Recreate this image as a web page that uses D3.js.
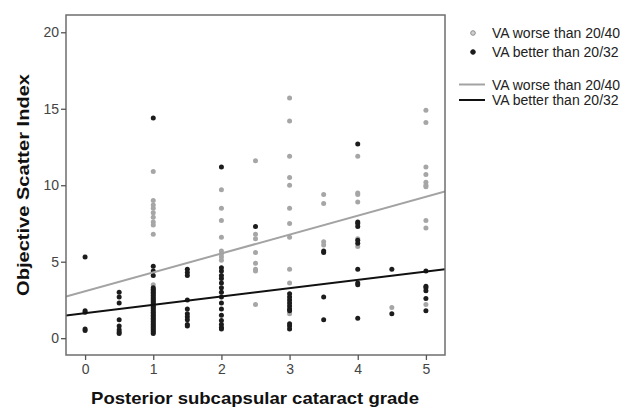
<!DOCTYPE html>
<html lang="en">
<head>
    <meta charset="UTF-8">
    <title>Objective Scatter Index vs PSC grade</title>
    <script src="https://d3js.org/d3.v7.min.js"></script>
    <style>
        body {
            margin: 0;
            background-color: white;
            font-family: "Liberation Sans", Arial, sans-serif;
        }
        .tick-label {
            font-size: 14px;
            fill: #444;
        }
        .axis-title {
            font-size: 17px;
            font-weight: bold;
            fill: #111;
        }
        .legend-text {
            font-size: 14px;
            fill: #222;
        }
    </style>
</head>
<body>
    <svg id="chart" width="635" height="411"></svg>

    <script>
        // Series values: [grade, list of OSI values at that grade]
        const worsePoints = [
            [1, [10.9, 9.0, 8.7, 8.5, 8.2, 7.9, 7.6, 7.4, 6.8, 3.5]],
            [2, [9.7, 8.5, 7.7, 6.6, 5.7, 5.5, 5.3, 5.1]],
            [2.5, [11.6, 6.8, 6.5, 5.6, 4.9, 4.5, 4.4, 2.2]],
            [3, [15.7, 14.2, 11.9, 10.5, 10.0, 8.5, 7.5, 6.6, 4.5, 3.6, 1.6]],
            [3.5, [9.4, 8.8, 6.3, 6.1]],
            [4, [11.9, 9.5, 9.4, 8.9, 6.5, 6.0]],
            [4.5, [2.0]],
            [5, [14.9, 14.1, 11.2, 10.7, 10.2, 10.0, 9.9, 7.7, 7.2, 2.2]]
        ];
        const betterPoints = [
            [0, [5.3, 1.8, 1.7, 0.6, 0.5]],
            [0.5, [3.0, 2.7, 2.3, 1.2, 0.8, 0.55, 0.4, 0.3]],
            [1, [14.4, 4.7, 4.4, 4.1, 3.3, 3.2, 3.1, 3.0, 2.9, 2.8, 2.7, 2.6, 2.5,
                 2.4, 2.3, 2.2, 2.1, 2.0, 1.9, 1.8, 1.7, 1.6, 1.5, 1.4, 1.3, 1.2,
                 1.1, 1.0, 0.9, 0.8, 0.7, 0.6, 0.5, 0.4, 0.3]],
            [1.5, [4.5, 4.3, 4.1, 2.5, 1.9, 1.6, 1.4, 1.2, 0.9, 0.8]],
            [2, [11.2, 4.6, 4.4, 4.1, 3.9, 3.6, 3.3, 3.0, 2.7, 2.3, 1.9, 1.5, 1.15, 0.9, 0.7, 0.6]],
            [2.5, [7.3]],
            [3, [2.9, 2.7, 2.5, 2.3, 2.1, 1.9, 1.8, 0.95, 0.8, 0.6]],
            [3.5, [5.7, 5.6, 2.7, 1.2]],
            [4, [12.7, 7.6, 7.5, 7.3, 6.4, 6.2, 4.5, 3.6, 3.5, 1.3]],
            [4.5, [4.5, 1.6]],
            [5, [4.4, 3.4, 3.3, 3.1, 2.6, 1.8]]
        ];

        // Linear fit lines (intercept, slope)
        const fitNames = ["VA worse than 20/40", "VA better than 20/32"];
        const fitIntercept = [3.07, 1.63];
        const fitSlope = [1.234, 0.545];

        // Axis ticks
        const xTicks = [0, 1, 2, 3, 4, 5];
        const yTicks = [0, 5, 10, 15, 20];

        const colors = ["#a6a6a6", "#1c1c1c"];
        const lineColors = ["#a3a3a3", "#111111"];

        const svg = d3.select("#chart");
        const frame = { left: 66, top: 15, right: 445, bottom: 355 };

        const x = d3.scaleLinear()
            .domain([-0.28, 5.28])
            .range([frame.left, frame.right]);
        const y = d3.scaleLinear()
            .domain([-1.1, 21.13])
            .range([frame.bottom, frame.top]);

        // Flatten the grouped points
        function flatten(groups) {
            const out = [];
            groups.forEach(g => g[1].forEach(v => out.push({ grade: g[0], osi: v })));
            return out;
        }

        svg.append("clipPath").attr("id", "plot-clip")
            .append("rect")
            .attr("x", frame.left)
            .attr("y", frame.top)
            .attr("width", frame.right - frame.left)
            .attr("height", frame.bottom - frame.top);

        // Points: gray first, black on top
        [worsePoints, betterPoints].forEach((groups, i) => {
            svg.append("g")
                .selectAll("circle")
                .data(flatten(groups))
                .enter()
                .append("circle")
                .attr("cx", d => x(d.grade))
                .attr("cy", d => y(d.osi))
                .attr("r", 2.5)
                .attr("fill", colors[i]);
        });

        // Fit lines across the whole x range
        const lineGroup = svg.append("g").attr("clip-path", "url(#plot-clip)");
        fitIntercept.forEach((b, i) => {
            const xs = x.domain();
            lineGroup.append("line")
                .attr("x1", x(xs[0]))
                .attr("y1", y(b + fitSlope[i] * xs[0]))
                .attr("x2", x(xs[1]))
                .attr("y2", y(b + fitSlope[i] * xs[1]))
                .attr("stroke", lineColors[i])
                .attr("stroke-width", 2);
        });

        // Frame
        svg.append("rect")
            .attr("x", frame.left)
            .attr("y", frame.top)
            .attr("width", frame.right - frame.left)
            .attr("height", frame.bottom - frame.top)
            .attr("fill", "none")
            .attr("stroke", "#6e6e6e")
            .attr("stroke-width", 1.5);

        // Y axis
        const yAxis = d3.axisLeft(y).tickValues(yTicks).tickSize(5).tickPadding(2)
            .tickFormat(d3.format("d"));
        const gy = svg.append("g")
            .attr("transform", `translate(${frame.left},0)`)
            .call(yAxis);
        gy.select(".domain").remove();
        gy.selectAll(".tick line").attr("stroke", "#555").attr("stroke-width", 1.3);
        gy.selectAll(".tick text")
            .attr("class", "tick-label")
            .style("font-family", "Liberation Sans, Arial, sans-serif");

        // X axis
        const xAxis = d3.axisBottom(x).tickValues(xTicks).tickSize(5).tickPadding(4)
            .tickFormat(d3.format("d"));
        const gx = svg.append("g")
            .attr("transform", `translate(0,${frame.bottom})`)
            .call(xAxis);
        gx.select(".domain").remove();
        gx.selectAll(".tick line").attr("stroke", "#555").attr("stroke-width", 1.3);
        gx.selectAll(".tick text")
            .attr("class", "tick-label")
            .style("font-family", "Liberation Sans, Arial, sans-serif");

        // Axis titles (stretched a little to the width seen in the reference)
        svg.append("text")
            .attr("class", "axis-title")
            .attr("x", 255)
            .attr("y", 404)
            .attr("text-anchor", "middle")
            .attr("textLength", 328)
            .attr("lengthAdjust", "spacingAndGlyphs")
            .text("Posterior subcapsular cataract grade");

        svg.append("text")
            .attr("class", "axis-title")
            .attr("transform", `translate(29,185) rotate(-90)`)
            .attr("text-anchor", "middle")
            .attr("textLength", 222)
            .attr("lengthAdjust", "spacingAndGlyphs")
            .text("Objective Scatter Index");

        // Legend
        const legend = svg.append("g");
        const markerRows = [33, 52];
        const lineRows = [84.5, 100];
        fitNames.forEach((name, i) => {
            legend.append("circle")
                .attr("cx", 473)
                .attr("cy", markerRows[i])
                .attr("r", 2.3)
                .attr("fill", i === 0 ? "#d0d0d0" : colors[1])
                .attr("stroke", i === 0 ? "#8c8c8c" : colors[1])
                .attr("stroke-width", 1);
            legend.append("text")
                .attr("class", "legend-text")
                .attr("x", 492)
                .attr("y", markerRows[i] + 5)
                .text(name);

            legend.append("line")
                .attr("x1", 459)
                .attr("x2", 485)
                .attr("y1", lineRows[i])
                .attr("y2", lineRows[i])
                .attr("stroke", lineColors[i])
                .attr("stroke-width", 2);
            legend.append("text")
                .attr("class", "legend-text")
                .attr("x", 492)
                .attr("y", lineRows[i] + 5)
                .text(name);
        });
    </script>
</body>
</html>
